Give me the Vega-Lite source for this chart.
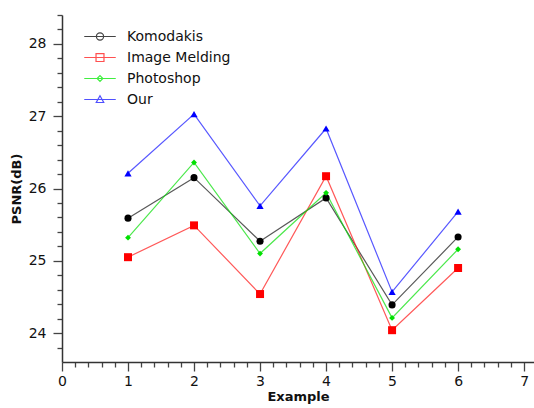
{
  "$schema": "https://vega.github.io/schema/vega-lite/v6.json",
  "width": 472,
  "height": 347,
  "autosize": {"type": "none"},
  "padding": {"left": 62, "top": 15, "right": 0, "bottom": 46},
  "background": "white",
  "config": {
    "view": {"stroke": null},
    "font": "DejaVu Sans",
    "axis": {
      "domainColor": "#333333",
      "domainWidth": 1.5,
      "tickColor": "#444444",
      "tickWidth": 1.3,
      "labelColor": "#111111",
      "labelFont": "DejaVu Sans",
      "labelFontSize": 14,
      "titleFont": "DejaVu Sans",
      "titleFontSize": 13,
      "titleFontWeight": "bold",
      "titleColor": "#111111",
      "grid": false,
      "labelOverlap": false,
      "labelFlush": false
    }
  },
  "data": {
    "values": [
      {"x": 1, "series": "Komodakis", "y": 25.59},
      {"x": 2, "series": "Komodakis", "y": 26.15},
      {"x": 3, "series": "Komodakis", "y": 25.27},
      {"x": 4, "series": "Komodakis", "y": 25.87},
      {"x": 5, "series": "Komodakis", "y": 24.39},
      {"x": 6, "series": "Komodakis", "y": 25.33},
      {"x": 1, "series": "Image Melding", "y": 25.05},
      {"x": 2, "series": "Image Melding", "y": 25.49},
      {"x": 3, "series": "Image Melding", "y": 24.54},
      {"x": 4, "series": "Image Melding", "y": 26.17},
      {"x": 5, "series": "Image Melding", "y": 24.04},
      {"x": 6, "series": "Image Melding", "y": 24.9},
      {"x": 1, "series": "Photoshop", "y": 25.32},
      {"x": 2, "series": "Photoshop", "y": 26.36},
      {"x": 3, "series": "Photoshop", "y": 25.1},
      {"x": 4, "series": "Photoshop", "y": 25.94},
      {"x": 5, "series": "Photoshop", "y": 24.21},
      {"x": 6, "series": "Photoshop", "y": 25.16},
      {"x": 1, "series": "Our", "y": 26.21},
      {"x": 2, "series": "Our", "y": 27.03},
      {"x": 3, "series": "Our", "y": 25.76},
      {"x": 4, "series": "Our", "y": 26.83},
      {"x": 5, "series": "Our", "y": 24.57},
      {"x": 6, "series": "Our", "y": 25.68}
    ]
  },
  "encoding": {
    "x": {
      "field": "x",
      "type": "quantitative",
      "scale": {"domain": [0, 7.15], "nice": false, "zero": false},
      "axis": {
        "title": "Example",
        "values": [0, 0.2, 0.4, 0.6, 0.8, 1, 1.2, 1.4, 1.6, 1.8, 2, 2.2, 2.4, 2.6, 2.8, 3, 3.2, 3.4, 3.6, 3.8, 4, 4.2, 4.4, 4.6, 4.8, 5, 5.2, 5.4, 5.6, 5.8, 6, 6.2, 6.4, 6.6, 6.8, 7],
        "labelExpr": "abs(datum.value - round(datum.value)) < 0.001 ? datum.value : ''",
        "tickSize": {"condition": {"test": "abs(datum.value - round(datum.value)) < 0.001", "value": 9}, "value": 5},
        "labelPadding": 3,
        "titlePadding": 2
      }
    },
    "y": {
      "field": "y",
      "type": "quantitative",
      "scale": {"domain": [23.6, 28.4], "nice": false, "zero": false},
      "axis": {
        "title": "PSNR(dB)",
        "values": [23.8, 24, 24.2, 24.4, 24.6, 24.8, 25, 25.2, 25.4, 25.6, 25.8, 26, 26.2, 26.4, 26.6, 26.8, 27, 27.2, 27.4, 27.6, 27.8, 28, 28.2, 28.4],
        "labelExpr": "abs(datum.value - round(datum.value)) < 0.001 ? datum.value : ''",
        "tickSize": {"condition": {"test": "abs(datum.value - round(datum.value)) < 0.001", "value": 9}, "value": 5},
        "labelPadding": 7,
        "titlePadding": 5
      }
    }
  },
  "layer": [
    {
      "transform": [{"filter": "datum.series === 'Komodakis'"}],
      "mark": {"type": "line", "strokeWidth": 1.2, "opacity": 0.75, "color": "#222222"}
    },
    {
      "transform": [{"filter": "datum.series === 'Image Melding'"}],
      "mark": {"type": "line", "strokeWidth": 1.2, "opacity": 0.75, "color": "#ff2020"}
    },
    {
      "transform": [{"filter": "datum.series === 'Photoshop'"}],
      "mark": {"type": "line", "strokeWidth": 1.2, "opacity": 0.75, "color": "#10e010"}
    },
    {
      "transform": [{"filter": "datum.series === 'Our'"}],
      "mark": {"type": "line", "strokeWidth": 1.2, "opacity": 0.75, "color": "#2020ff"}
    },
    {
      "transform": [{"filter": "datum.series === 'Komodakis'"}],
      "mark": {"type": "point", "filled": true, "opacity": 1, "shape": "circle", "size": 50, "color": "#000000"}
    },
    {
      "transform": [{"filter": "datum.series === 'Image Melding'"}],
      "mark": {"type": "point", "filled": true, "opacity": 1, "shape": "square", "size": 64, "color": "#ff0000"}
    },
    {
      "transform": [{"filter": "datum.series === 'Photoshop'"}],
      "mark": {"type": "point", "filled": true, "opacity": 1, "shape": "diamond", "size": 34, "color": "#00e000"}
    },
    {
      "transform": [{"filter": "datum.series === 'Our'"}],
      "mark": {"type": "point", "filled": true, "opacity": 1, "shape": "triangle-up", "size": 52, "color": "#0000ff"}
    },
    {
      "mark": {"type": "point", "filled": true, "opacity": 0},
      "encoding": {
        "fill": {
          "field": "series",
          "type": "nominal",
          "scale": {"domain": ["Komodakis", "Image Melding", "Photoshop", "Our"], "range": ["#000000", "#ff0000", "#00e000", "#0000ff"]},
          "legend": {
            "title": null,
            "orient": "none",
            "legendX": 29.5,
            "legendY": 13,
            "symbolOpacity": 1,
            "symbolSize": 225,
            "symbolStrokeWidth": 1.2,
            "labelFont": "DejaVu Sans",
            "labelFontSize": 14,
            "labelColor": "#111111",
            "labelOffset": 18.5,
            "rowPadding": 5,
            "padding": 0
          }
        },
        "stroke": {
          "field": "series",
          "type": "nominal",
          "scale": {"domain": ["Komodakis", "Image Melding", "Photoshop", "Our"], "range": ["#444444", "#ff5050", "#40ee40", "#5050ff"]}
        },
        "shape": {
          "field": "series",
          "type": "nominal",
          "scale": {
            "domain": ["Komodakis", "Image Melding", "Photoshop", "Our"],
            "range": [
              "M-2.1,0H2.1M0.48,0A0.48,0.48,0,1,1,-0.48,0A0.48,0.48,0,1,1,0.48,0Z",
              "M-2.1,0H2.1M-0.53,-0.53H0.53V0.53H-0.53Z",
              "M-2.1,0H2.1M0,-0.38L0.38,0L0,0.38L-0.38,0Z",
              "M-2.1,0H2.1M0,-0.5L0.5,0.4H-0.5Z"
            ]
          }
        }
      }
    }
  ]
}
